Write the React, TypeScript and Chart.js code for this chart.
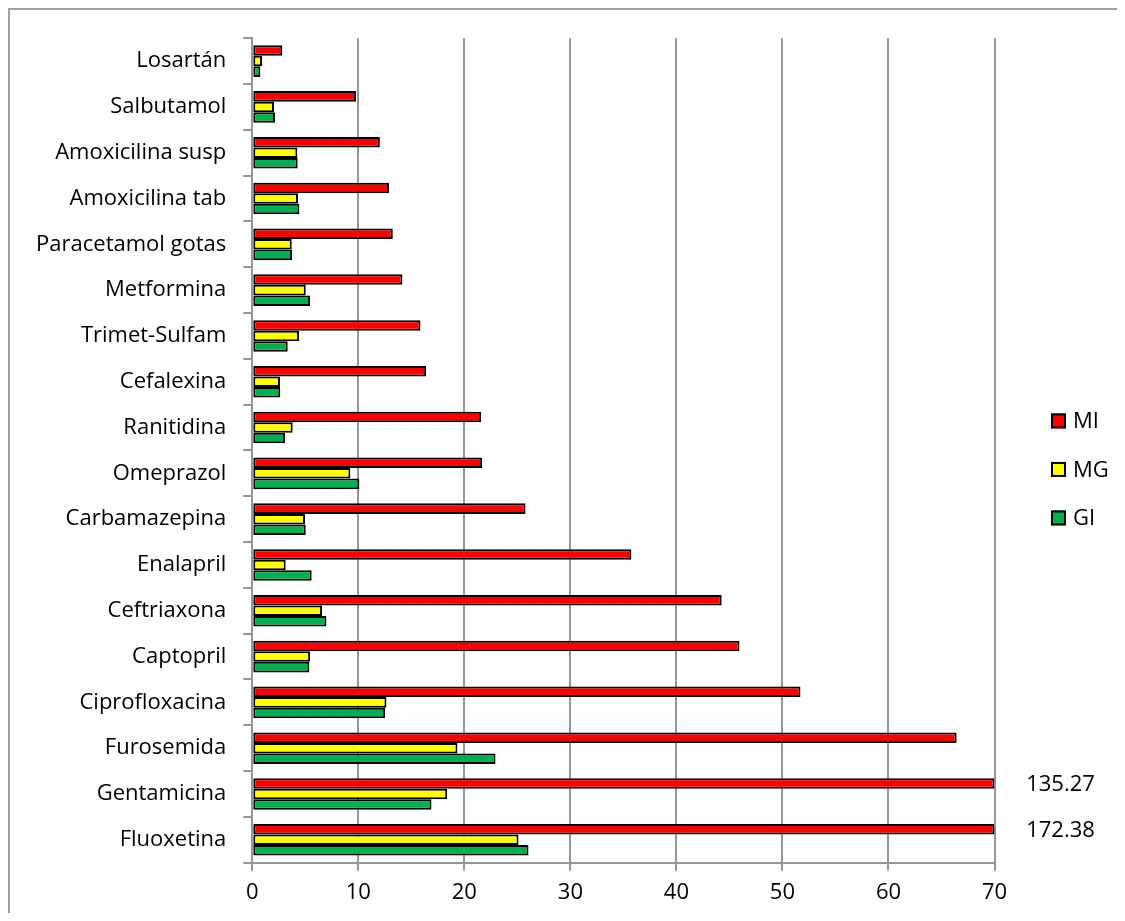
import { useEffect, useRef } from "react";
import { Chart, registerables } from "chart.js";

Chart.register(...registerables);

const categories = [
  "Losartán",
  "Salbutamol",
  "Amoxicilina susp",
  "Amoxicilina tab",
  "Paracetamol gotas",
  "Metformina",
  "Trimet-Sulfam",
  "Cefalexina",
  "Ranitidina",
  "Omeprazol",
  "Carbamazepina",
  "Enalapril",
  "Ceftriaxona",
  "Captopril",
  "Ciprofloxacina",
  "Furosemida",
  "Gentamicina",
  "Fluoxetina",
];

const miValues = [2.83, 9.79, 12.03, 12.9, 13.25, 14.16, 15.86, 16.4, 21.59, 21.68, 25.77, 35.75, 44.27, 45.95, 51.7, 66.43, 135.27, 172.38];
const mgValues = [0.92, 2.05, 4.25, 4.31, 3.72, 5.04, 4.41, 2.61, 3.81, 9.25, 4.97, 3.15, 6.58, 5.45, 12.65, 19.35, 18.38, 25.11];
const giValues = [0.76, 2.14, 4.28, 4.44, 3.75, 5.45, 3.34, 2.64, 3.09, 10.1, 5.04, 5.6, 6.99, 5.38, 12.53, 22.94, 16.9, 26.05];

const seriesNames = ["MI", "MG", "GI"];
const seriesColors = ["#FF0000", "#FFFF00", "#00B050"];

const X_MIN = 0;
const X_MAX = 70;
const X_STEP = 10;

const FONT = "'Open Sans', sans-serif";
const GRID = "#969696";

const overflowLabels = {
  id: "overflowLabels",
  afterDatasetsDraw(chart: any) {
    const ctx = chart.ctx;
    const meta = chart.getDatasetMeta(0);
    ctx.save();
    ctx.font = `22px ${FONT}`;
    ctx.fillStyle = "#000";
    ctx.textAlign = "center";
    ctx.textBaseline = "middle";
    meta.data.forEach((el: any, i: number) => {
      if (miValues[i] > X_MAX) {
        ctx.fillText(miValues[i].toFixed(2), el.x + 66, el.y + 1.5);
      }
    });
    ctx.restore();
  },
};

const sideLegend = {
  id: "sideLegend",
  afterDraw(chart: any) {
    const { ctx, chartArea } = chart;
    const x0 = chartArea.right + 56.5;
    const cy = (chartArea.top + chartArea.bottom) / 2 + 19;
    ctx.save();
    ctx.font = `22px ${FONT}`;
    ctx.textAlign = "left";
    ctx.textBaseline = "middle";
    chart.data.datasets.forEach((ds: any, i: number) => {
      const y = cy + (i - 1) * 48.5;
      ctx.fillStyle = ds.backgroundColor;
      ctx.fillRect(x0, y - 7.5, 15, 15);
      ctx.lineWidth = 2;
      ctx.strokeStyle = "#000";
      ctx.strokeRect(x0 + 1, y - 6.5, 13, 13);
      ctx.fillStyle = "#000";
      ctx.fillText(ds.label, x0 + 22, y + 1);
    });
    ctx.restore();
  },
};

export default function App() {
  const canvasRef = useRef<HTMLCanvasElement | null>(null);

  useEffect(() => {
    const canvas = canvasRef.current;
    if (!canvas) return;
    const seriesValues = [miValues, mgValues, giValues];
    const chart = new Chart(canvas, {
      type: "bar",
      data: {
        labels: categories,
        datasets: seriesNames.map((name, i) => ({
          label: name,
          data: seriesValues[i].map((v) => Math.min(v, X_MAX)),
          backgroundColor: seriesColors[i],
          borderColor: "#000000",
          borderWidth: 2,
          borderSkipped: false,
          categoryPercentage: 0.69,
          barPercentage: 1.0,
        })),
      },
      options: {
        indexAxis: "y",
        responsive: false,
        animation: false,
        events: [],
        layout: {
          padding: { left: 0, right: 130.5, top: 29, bottom: 10.3 },
        },
        plugins: {
          legend: { display: false },
          tooltip: { enabled: false },
        },
        scales: {
          x: {
            type: "linear",
            min: X_MIN,
            max: X_MAX,
            ticks: {
              stepSize: X_STEP,
              color: "#000",
              font: { family: FONT, size: 22 },
              padding: 9,
            },
            grid: {
              color: GRID,
              lineWidth: 2,
              tickLength: 8,
            },
            border: { color: GRID, width: 2 },
            afterFit(scale: any) {
              scale.height = 40;
            },
          },
          y: {
            type: "category",
            ticks: {
              color: "#000",
              font: { family: FONT, size: 22 },
              padding: 17,
              autoSkip: false,
            },
            grid: {
              color: GRID,
              lineWidth: 2,
              tickLength: 9,
              drawOnChartArea: false,
              offset: true,
            },
            border: { color: GRID, width: 2 },
            afterFit(scale: any) {
              scale.width = 244.3;
            },
          },
        },
      },
      plugins: [overflowLabels, sideLegend],
    } as any);
    return () => chart.destroy();
  }, []);

  return (
    <div style={{ position: "relative", width: 1117, height: 905, background: "#fff" }}>
      <canvas
        ref={canvasRef}
        width={1117}
        height={905}
        style={{ position: "absolute", left: 0, top: 0, width: 1117, height: 905 }}
      />
      <div
        style={{
          position: "absolute",
          inset: 0,
          borderLeft: "2px solid #a0a0a0",
          borderTop: "2px solid #a0a0a0",
          pointerEvents: "none",
        }}
      />
    </div>
  );
}
